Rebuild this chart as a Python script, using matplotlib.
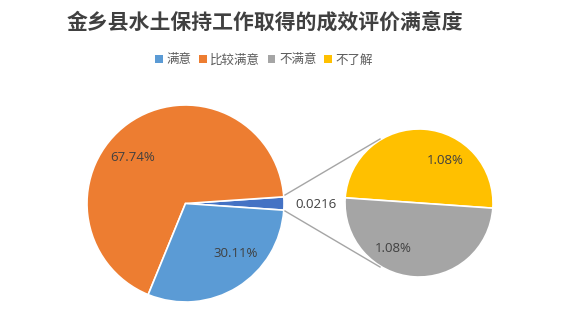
import matplotlib
matplotlib.use("Agg")
import matplotlib.pyplot as plt
from matplotlib.patches import Patch
from matplotlib.lines import Line2D

plt.rcParams["font.family"] = ["Noto Sans CJK SC", "DejaVu Sans"]

title = "金乡县水土保持工作取得的成效评价满意度"
categories = ["满意", "比较满意", "不满意", "不了解"]
shares = [0.3011, 0.6774, 0.0108, 0.0108]
other_label = "0.0216"

colors = ["#5B9BD5", "#ED7D31", "#A5A5A5", "#FFC000"]
other_color = "#4472C4"
text_color = "#404040"

W, H = 573, 330
fig = plt.figure(figsize=(W / 100, H / 100), dpi=100)
ax = fig.add_axes([0, 0, 1, 1])

# main pie: the two small categories are merged into one "other" slice
other = shares[2] + shares[3]
main_vals = [other, shares[1], shares[0]]
main_cols = [other_color, colors[1], colors[0]]
c1 = (185.5, H - 203.5)
r1 = 98.5
start = -other * 360 / 2
ax.pie(main_vals, colors=main_cols, startangle=start, counterclock=True,
       center=c1, radius=r1, normalize=True,
       wedgeprops=dict(edgecolor="white", linewidth=1.2))

# secondary pie with the split-out categories
c2 = (419, H - 203)
r2 = 74
sub_vals = [shares[3], shares[2]]
sub_cols = [colors[3], colors[2]]
ax.pie(sub_vals, colors=sub_cols, startangle=-4, counterclock=True,
       center=c2, radius=r2, normalize=True,
       wedgeprops=dict(edgecolor="white", linewidth=1.2))

# connector lines between the two pies
ax.add_line(Line2D([285, 380], [H - 195, H - 139], color="#A5A5A5", lw=1))
ax.add_line(Line2D([285, 380], [H - 211, H - 267], color="#A5A5A5", lw=1))

lab_kw = dict(ha="center", va="center", fontsize=9.5, color=text_color,
              family=["Open Sans", "DejaVu Sans"])
ax.text(132.5, H - 157.5, f"{shares[1] * 100:.2f}%", **lab_kw)
ax.text(236, H - 253.5, f"{shares[0] * 100:.2f}%", **lab_kw)
ax.text(445, H - 160, f"{shares[3] * 100:.2f}%", **lab_kw)
ax.text(393, H - 248, f"{shares[2] * 100:.2f}%", **lab_kw)
ax.text(316.5, H - 204, other_label, **lab_kw)

ax.text(265, H - 22, title, ha="center", va="center", fontsize=15,
        fontweight="bold", color=text_color)

handles = [Patch(facecolor=c, edgecolor="none") for c in colors]
fig.legend(handles, categories, loc="center", bbox_to_anchor=(264 / W, 1 - 60 / H),
           ncol=4, frameon=False, fontsize=9, handlelength=0.6, handleheight=0.6,
           handletextpad=0.3, columnspacing=0.6, labelcolor="#595959")

ax.set_xlim(0, W)
ax.set_ylim(0, H)
ax.set_aspect("equal")
ax.set_axis_off()

fig.savefig("out.png", dpi=100)
